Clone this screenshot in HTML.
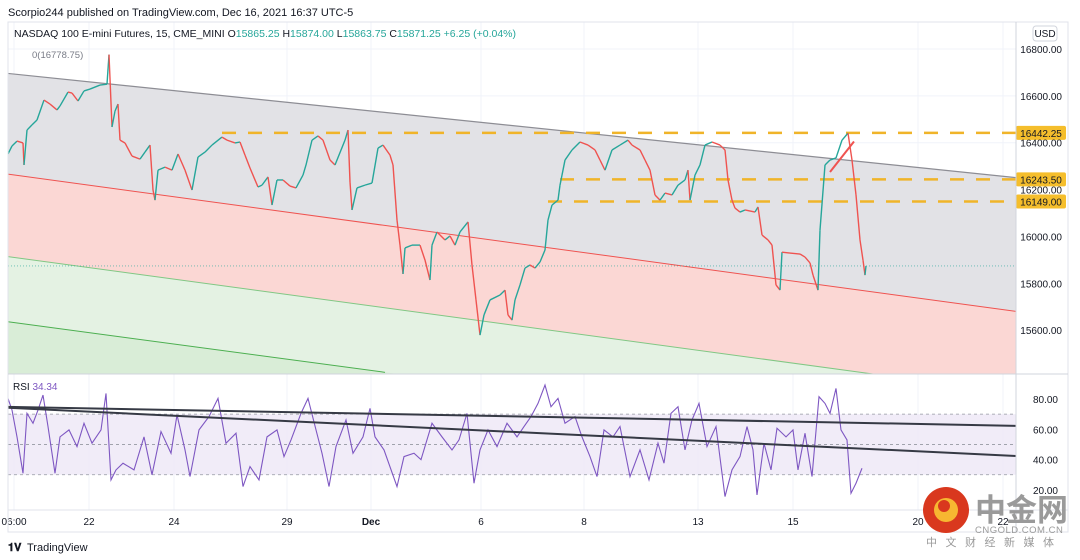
<!DOCTYPE html>
<html><head><meta charset="utf-8"><style>
html,body{margin:0;padding:0;background:#fff;overflow:hidden;width:1080px;height:560px;}
svg{display:block;}
svg text{font-family:"Liberation Sans","Noto Sans CJK SC",sans-serif;}
</style></head><body>
<svg id="c" width="1080" height="560" viewBox="0 0 1080 560" xmlns="http://www.w3.org/2000/svg">
<rect width="1080" height="560" fill="#fff"/>
<text x="8" y="16" font-size="11" fill="#131722">Scorpio244 published on TradingView.com, Dec 16, 2021 16:37 UTC-5</text>
<g id="grid"></g>
<g id="bands"></g>
<g id="levels"></g>
<g id="price"></g>
<g id="rsi"></g>
<g id="axes"></g>
<rect x="8" y="22" width="1060" height="510" fill="none" stroke="#e0e3eb"/>
<line x1="1016" y1="22" x2="1016" y2="532" stroke="#d1d4dc"/>
<line x1="8" y1="374" x2="1068" y2="374" stroke="#d1d4dc"/>
<line x1="8" y1="510" x2="1068" y2="510" stroke="#e0e3eb"/>
<text x="14" y="37" font-size="10.5" fill="#131722">NASDAQ 100 E-mini Futures, 15, CME_MINI  <tspan>O</tspan><tspan fill="#26a69a">15865.25</tspan> H<tspan fill="#26a69a">15874.00</tspan> L<tspan fill="#26a69a">15863.75</tspan> C<tspan fill="#26a69a">15871.25</tspan> <tspan fill="#26a69a">+6.25 (+0.04%)</tspan></text>
<rect x="1033" y="26" width="24" height="15" rx="3" fill="#fff" stroke="#d1d4dc"/>
<text x="1045" y="37" font-size="10" text-anchor="middle" fill="#131722">USD</text>
<text x="32" y="58" font-size="9.5" fill="#787b86">0(16778.75)</text>
<text x="13" y="390" font-size="10" fill="#131722">RSI <tspan fill="#7e57c2">34.34</tspan></text>
<g><text x="8" y="551" font-size="11" font-weight="bold" fill="#131722">𝟏𝐕</text><text x="27" y="551" font-size="11" fill="#131722">TradingView</text></g>
<g>
<circle cx="946" cy="510" r="23" fill="#d9381e"/>
<circle cx="946" cy="510" r="12" fill="#f7b731"/>
<circle cx="944" cy="506" r="6" fill="#d9381e"/>
<text x="975" y="521" font-size="31" font-weight="bold" fill="#9a9a9a" font-family="Noto Sans CJK SC">中金网</text>
<text x="975" y="533" font-size="9.5" fill="#9a9a9a" letter-spacing="0.5">CNGOLD.COM.CN</text>
<text x="926" y="546" font-size="11" fill="#9a9a9a" letter-spacing="8.5">中文财经新媒体</text>
</g>
</svg>
<script>
const priceTicks=[16800,16600,16400,16200,16000,15800,15600];
const rsiTicks=[80,60,40,20];
const timeLabels=["06:00","22","24","29","Dec","6","8","13","15","20","22"];
const timeLabelBars=[6,81,166,279,363,473,576,690,785,910,995];
const levelValues=[16442.25,16243.50,16149.00];
const levelStartBars=[214,552,540];
const priceBars=[0,4,9,15,16,19,24,29,36,42,49,52,60,64,70,76,82,92,99,101,104,107,110,112,117,124,132,137,142,145,147,150,157,164,170,177,184,190,197,204,214,219,227,232,237,242,250,254,260,264,269,275,282,288,295,298,304,310,315,322,327,337,340,342,344,349,357,364,370,375,382,385,389,392,395,397,404,412,417,422,424,429,432,437,442,447,452,460,464,468,472,476,482,492,497,500,504,507,512,517,522,527,532,537,540,544,550,552,557,564,572,580,587,592,597,604,612,620,624,632,637,642,647,652,657,664,670,677,680,682,687,692,697,704,712,717,720,724,727,732,737,747,750,754,760,764,768,772,774,782,792,797,802,805,810,812,817,822,828,834,840,844,848,852,855,857,858];
const priceValues=[16352,16386,16407,16399,16305,16454,16476,16497,16582,16565,16540,16557,16616,16612,16578,16621,16629,16646,16650,16776,16467,16535,16565,16411,16399,16343,16330,16360,16390,16198,16155,16283,16296,16283,16352,16283,16198,16339,16360,16390,16424,16411,16399,16403,16347,16292,16211,16219,16254,16134,16241,16241,16215,16207,16262,16305,16411,16429,16411,16326,16305,16411,16454,16232,16113,16207,16219,16228,16377,16390,16347,16305,16070,15963,15840,15951,15963,15963,15899,15814,15963,16019,16006,15985,16002,15963,16019,16062,15878,15729,15579,15665,15729,15750,15771,15665,15643,15729,15793,15865,15878,15865,15891,15942,16070,16134,16155,16219,16326,16369,16403,16390,16369,16326,16283,16369,16390,16411,16390,16369,16326,16283,16177,16155,16185,16177,16219,16241,16283,16155,16262,16305,16390,16403,16390,16369,16241,16155,16121,16104,16113,16104,16126,16006,15985,15963,15793,15771,15933,15929,15925,15912,15887,15835,15771,16027,16305,16326,16335,16411,16441,16326,16177,15985,15899,15835,15874];
const rsiBars=[0,4,9,15,19,25,30,35,40,47,52,61,69,76,84,93,98,103,108,115,126,136,144,153,163,169,177,182,191,201,210,218,228,235,242,251,259,269,276,283,293,300,308,314,321,328,338,345,355,362,367,376,389,396,406,413,424,434,444,451,459,466,472,480,489,499,509,516,523,530,537,543,550,557,567,574,582,589,596,605,612,622,632,641,650,656,663,670,677,684,691,699,708,717,724,732,739,745,749,756,763,769,778,785,790,797,804,811,817,822,828,833,839,843,848,854];
const rsiValues=[80.4,72.7,55,31,70.5,64,72.7,82.6,61.8,31,55,59.6,48.6,64,50.8,59.6,83.7,26.6,33.2,37.6,33.2,55,30,58.5,44.2,69.5,46.4,28.8,59.6,68.4,80.4,50.8,57.4,22.2,35.4,26.6,55,59.6,42,53,70.5,80.4,59.6,44.2,22.2,48.6,66.2,44.2,55,73.8,55,46.4,22.2,42,44.2,40,64,55,46.4,53,70.5,24.4,46.4,59.6,48.6,64,55,61.8,68.4,77.1,89.2,74.9,80.4,64,68.4,55,42,28.8,59.6,55,61.8,28.8,46.4,26.6,50.8,37.6,70.5,74.9,46.4,66.2,77.1,48.6,61.8,15.6,33.2,42,61.8,46.4,16.7,50.8,33.2,60.7,55,59.6,33.2,57.4,28.8,81.5,77.1,70.5,87,59.6,53,17.8,24.4,34.3];
const channelTop=[[-62,16723],[1008,16251]];
const channelMid=[[0,16266],[1008,15680]];
const channelLow=[[0,15914],[1008,15330]];
const channelLow2=[[0,15636],[377,15420]];
const rsiTrend1=[[0,74.8],[1008,62.3]];
const rsiTrend2=[[0,74.2],[1008,42.4]];

const NS="http://www.w3.org/2000/svg";
const X=b=>8+b;
const PY=p=>49+(16800-p)*0.2343;
const RY=v=>399+(80-v)*1.515;
function mk(parent,tag,attrs){const e=document.createElementNS(NS,tag);for(const k in attrs)e.setAttribute(k,attrs[k]);(typeof parent==='string'?document.getElementById(parent):parent).appendChild(e);return e;}

timeLabelBars.forEach(b=>{const l=mk('grid','line',{x1:X(b),y1:22,x2:X(b),y2:510,stroke:'#f0f3fa'});

});
priceTicks.forEach(p=>{const l=mk('grid','line',{x1:8,y1:PY(p),x2:1016,y2:PY(p),stroke:'#f0f3fa'});

});

const clip=mk('bands','clipPath',{id:'pp'});
mk(clip,'rect',{x:8,y:22,width:1008,height:352});
const bg=mk('bands','g',{'clip-path':'url(#pp)'});
function yAt(line,b){const[a,c]=line;return a[1]+(c[1]-a[1])*(b-a[0])/(c[0]-a[0]);}
function band(top,bot,fill,name){const pts=[[0,yAt(top,0)],[1008,yAt(top,1008)],[1008,yAt(bot,1008)],[0,yAt(bot,0)]];
const p=mk(bg,'polygon',{points:pts.map(q=>X(q[0])+','+PY(q[1])).join(' '),fill:fill});

}
band(channelTop,channelMid,'#e2e2e6','channel-upper-fill');
band(channelMid,channelLow,'#fbd7d4','channel-mid-fill');
band(channelLow,[[0,15000],[1008,14400]],'#e4f2e3','channel-lower-fill');
band(channelLow2,[[0,15000],[1008,14400]],'#d9edd7','channel-bottom-fill');
function ln(line,stroke,w,name){const e=mk(bg,'line',{x1:X(line[0][0]),y1:PY(line[0][1]),x2:X(line[1][0]),y2:PY(line[1][1]),stroke:stroke,'stroke-width':w});

}
ln(channelTop,'#8d8d94',1.2,'channel-top-line');
ln(channelMid,'#ef5350',1,'channel-mid-line');
ln(channelLow,'#81c784',1,'channel-low-line');
ln(channelLow2,'#4caf50',1,'channel-low2-line');

levelValues.forEach((v,i)=>{const l=mk('levels','line',{x1:X(levelStartBars[i]),y1:PY(v),x2:1016,y2:PY(v),stroke:'#f0b429','stroke-width':2.5,'stroke-dasharray':'14 12'});


const r=mk('levels','rect',{x:1016,y:PY(v)-7,width:50,height:14,fill:'#f5be2c',rx:2});


const t=mk('levels','text',{x:1041,y:PY(v)+4,'font-size':10,'text-anchor':'middle',fill:'#131722'});t.textContent=v.toFixed(2);

});

const lp=mk('price','line',{x1:8,y1:PY(priceValues[priceValues.length-1]),x2:1016,y2:PY(priceValues[priceValues.length-1]),stroke:'#26a69a','stroke-width':0.8,'stroke-dasharray':'1 2',opacity:0.7});


for(let i=1;i<priceBars.length;i++){const up=priceValues[i]>=priceValues[i-1];
const s=mk('price','line',{x1:X(priceBars[i-1]),y1:PY(priceValues[i-1]),x2:X(priceBars[i]),y2:PY(priceValues[i]),stroke:up?'#26a69a':'#ef5350','stroke-width':1.4});

}
const tl=mk('price','line',{x1:X(822),y1:PY(16275),x2:X(846),y2:PY(16405),stroke:'#ef5350','stroke-width':2});



const rb=mk('rsi','rect',{x:8,y:RY(70),width:1008,height:RY(30)-RY(70),fill:'#ede7f6',opacity:0.8});


[70,50,30].forEach(v=>{const l=mk('rsi','line',{x1:8,y1:RY(v),x2:1016,y2:RY(v),stroke:'#9598a1','stroke-dasharray':'3 3','stroke-width':0.8});

});
const rp=mk('rsi','polyline',{points:rsiBars.map((b,i)=>X(b)+','+RY(rsiValues[i])).join(' '),fill:'none',stroke:'#7e57c2','stroke-width':1.1});


[rsiTrend1,rsiTrend2].forEach(t=>{const l=mk('rsi','line',{x1:X(t[0][0]),y1:RY(t[0][1]),x2:X(t[1][0]),y2:RY(t[1][1]),stroke:'#363a45','stroke-width':2});

});

priceTicks.forEach(p=>{const t=mk('axes','text',{x:1062,y:PY(p)+4,'font-size':10,'text-anchor':'end',fill:'#131722'});t.textContent=p.toFixed(2);

});
rsiTicks.forEach(v=>{const t=mk('axes','text',{x:1058,y:RY(v)+4,'font-size':10,'text-anchor':'end',fill:'#131722'});t.textContent=v.toFixed(2);

});
timeLabels.forEach((s,i)=>{const t=mk('axes','text',{x:X(timeLabelBars[i]),y:525,'font-size':10,'text-anchor':'middle',fill:'#131722','font-weight':s==='Dec'?'bold':'normal'});t.textContent=s;

});
</script>
</body></html>
